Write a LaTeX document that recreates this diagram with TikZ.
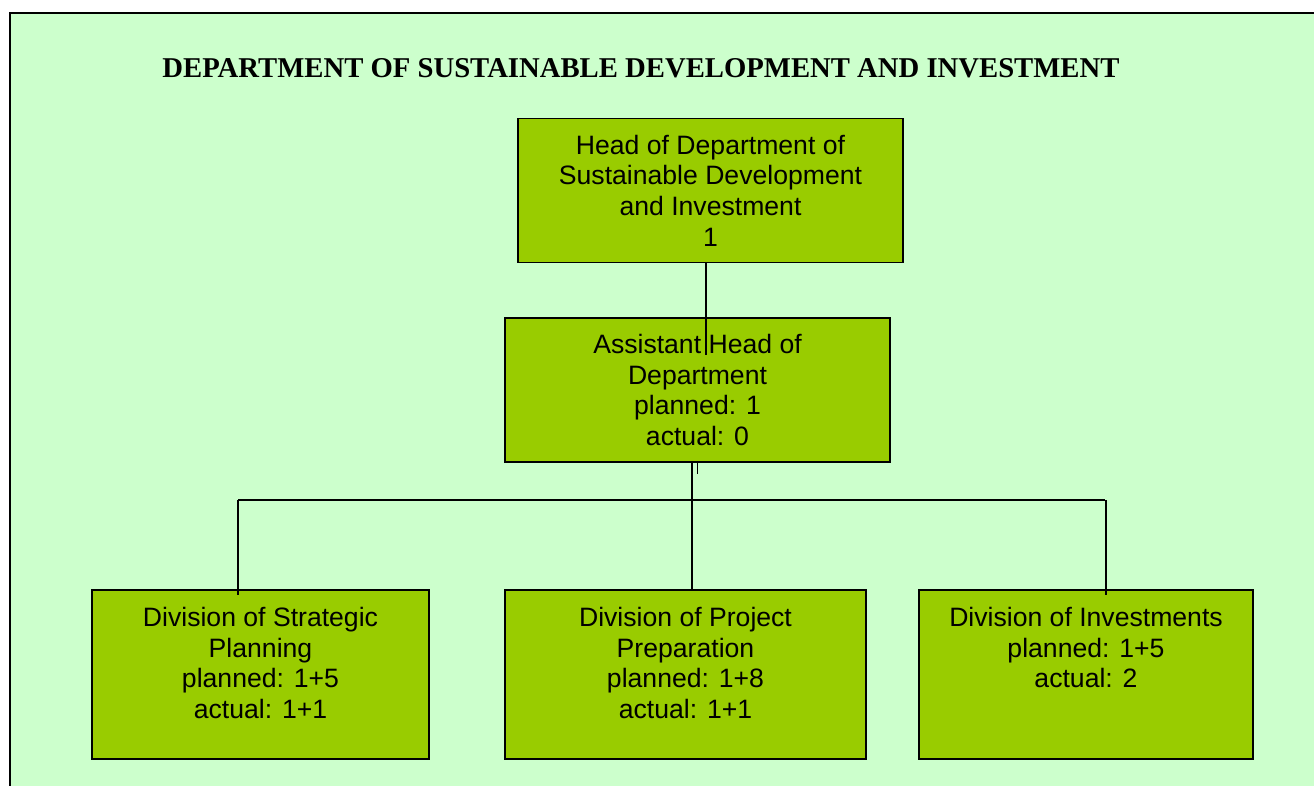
\documentclass[tikz,border=0pt]{standalone}
\usepackage{fontspec}
\setmainfont{Liberation Serif}
\setsansfont{Liberation Sans}
\usepackage{tikz}
\usetikzlibrary{calc}

\definecolor{pagegreen}{HTML}{CCFFCC}
\definecolor{boxgreen}{HTML}{99CC00}

% lines hung from the top of a division box
\newcommand{\divlines}[1]{\begin{tabular}[t]{@{}c@{}}#1\end{tabular}}

\tikzset{
  orgbox/.style={draw=black, line width=0.75pt, fill=boxgreen, inner sep=0pt,
    font=\sffamily\fontsize{13.3}{15.35}\selectfont},
  topbox/.style={orgbox, align=center, minimum width=192.5pt, minimum height=72pt},
  divbox/.style={orgbox, text height=18.25pt, text depth=66.25pt},
  orgline/.style={line width=0.75pt}
}

\begin{document}
\begin{tikzpicture}[x=0.5pt, y=-0.5pt]
            \useasboundingbox (0,0) rectangle (1314,786);
            \fill[pagegreen] (10,13) rectangle (1314,786);
            \draw[line width=1pt] (1314,13) -- (10,13) -- (10,786);
            \node[font=\rmfamily\bfseries\fontsize{14.35}{17}\selectfont] (title) at (641,68) {DEPARTMENT OF SUSTAINABLE DEVELOPMENT AND INVESTMENT};
            % boxes
            \node[topbox] (hod) at (710.5,190.5) {Head of Department of\\Sustainable Development\\and Investment\\1};
            \node[topbox] (ahd) at (697.5,390) {Assistant Head of\\Department\\planned: 1\\actual: 0};
            \node[divbox, minimum width=168.5pt] (dsp) at (260.5,674.5) {\divlines{Division of Strategic\\Planning\\planned: 1+5\\actual: 1+1}};
            \node[divbox, minimum width=180.5pt] (dpp) at (685.5,674.5) {\divlines{Division of Project\\Preparation\\planned: 1+8\\actual: 1+1}};
            \node[divbox, minimum width=167pt] (dinv) at (1086,674.5) {\divlines{Division of Investments\\planned: 1+5\\actual: 2}};
            % connectors
            \coordinate (hj) at (706,355);
            \coordinate (bus) at (692,500);
            \draw[orgline] (hj |- hod.south) -- (hj);
            \draw[orgline] (bus |- ahd.south) -- (bus |- dpp.north);
            \draw[line width=0.5pt] ($(bus |- ahd.south)+(5,0)$) -- ++(0,11);
            \draw[orgline] (238,500) -- (1105,500);
            \draw[orgline] (238,500) -- ($(238,0 |- dsp.north)+(0,6)$);
            \draw[orgline] (1106,500) -- ($(1106,0 |- dinv.north)+(0,6)$);
        \end{tikzpicture}
\end{document}
